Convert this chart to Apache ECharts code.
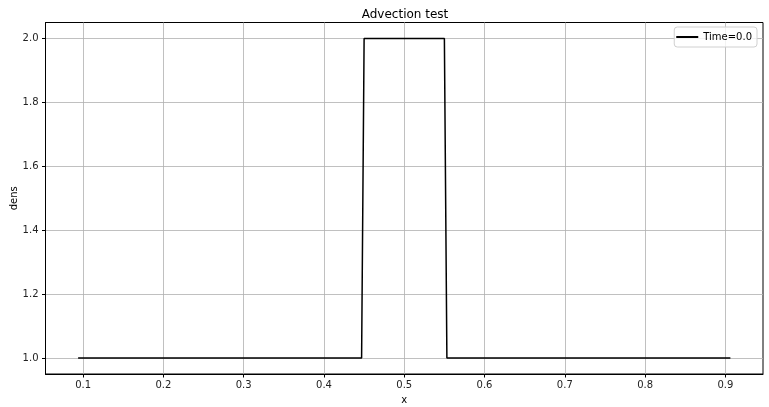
<!DOCTYPE html>
<html>
<head>
<meta charset="utf-8">
<script src="https://cdn.jsdelivr.net/npm/echarts@6/dist/echarts.min.js"></script>
<style>html,body{margin:0;padding:0;background:#fff}#c{width:769px;height:407px}</style>
</head>
<body>
<div id="c"></div>
<script>
// Breakpoints of the density profile (x, dens)
const xValues = [0.09375, 0.446875, 0.45, 0.55, 0.553125, 0.90625];
const densValues = [1.0, 1.0, 2.0, 2.0, 1.0, 1.0];
const xTicks = [0.1, 0.2, 0.3, 0.4, 0.5, 0.6, 0.7, 0.8, 0.9];
const yTicks = [1.0, 1.2, 1.4, 1.6, 1.8, 2.0];
const seriesName = 'Time=0.0';

const data = xValues.map((x, i) => [x, densValues[i]]);
const font = 'DejaVu Sans';
const chart = echarts.init(document.getElementById('c'), null, {renderer: 'canvas'});
chart.setOption({
  animation: false,
  backgroundColor: '#fff',
  title: {
    text: 'Advection test', left: 400, top: 4, textAlign: 'center',
    textStyle: {fontFamily: font, fontSize: 12, fontWeight: 'normal', color: '#000'}
  },
  legend: {
    right: 12, top: 27, orient: 'vertical',
    icon: 'rect', itemWidth: 22, itemHeight: 2, itemGap: 4,
    padding: [5, 5, 5, 2],
    borderColor: '#d0d0d0', borderWidth: 1, borderRadius: 3,
    backgroundColor: 'rgba(255,255,255,0.8)',
    textStyle: {fontFamily: font, fontSize: 10, color: '#000'},
    data: [seriesName]
  },
  grid: {
    left: 45.5, right: 6, top: 22.5, bottom: 33,
    outerBoundsMode: 'none', containLabel: false,
    show: true, borderColor: '#000', borderWidth: 1, backgroundColor: 'transparent'
  },
  xAxis: {
    type: 'value', min: 0.053125, max: 0.946875,
    name: 'x', nameLocation: 'middle', nameGap: 21, nameMoveOverlap: false,
    nameTextStyle: {fontFamily: font, fontSize: 10, color: '#000'},
    axisLine: {show: true, lineStyle: {color: '#000', width: 1}},
    axisTick: {show: true, inside: false, length: 3.5, customValues: xTicks, lineStyle: {color: '#000'}},
    axisLabel: {customValues: xTicks, margin: 6, fontFamily: font, fontSize: 10, color: '#222',
      formatter: v => v.toFixed(1)},
    splitLine: {show: true, lineStyle: {color: '#b0b0b0', width: 0.8}}
  },
  yAxis: {
    type: 'value', min: 0.95, max: 2.05,
    name: 'dens', nameLocation: 'middle', nameGap: 26, nameMoveOverlap: false,
    nameTextStyle: {fontFamily: font, fontSize: 10, color: '#000'},
    axisLine: {show: true, lineStyle: {color: '#000', width: 1}},
    axisTick: {show: true, inside: false, length: 3.5, customValues: yTicks, lineStyle: {color: '#000'}},
    axisLabel: {customValues: yTicks, margin: 7, fontFamily: font, fontSize: 10, color: '#222',
      formatter: v => v.toFixed(1)},
    splitLine: {show: true, lineStyle: {color: '#b0b0b0', width: 0.8}}
  },
  series: [{
    name: seriesName, type: 'line', data: data,
    showSymbol: false, symbol: 'none',
    lineStyle: {color: '#000', width: 1.5},
    itemStyle: {color: '#000'}
  }]
});
</script>
</body>
</html>
